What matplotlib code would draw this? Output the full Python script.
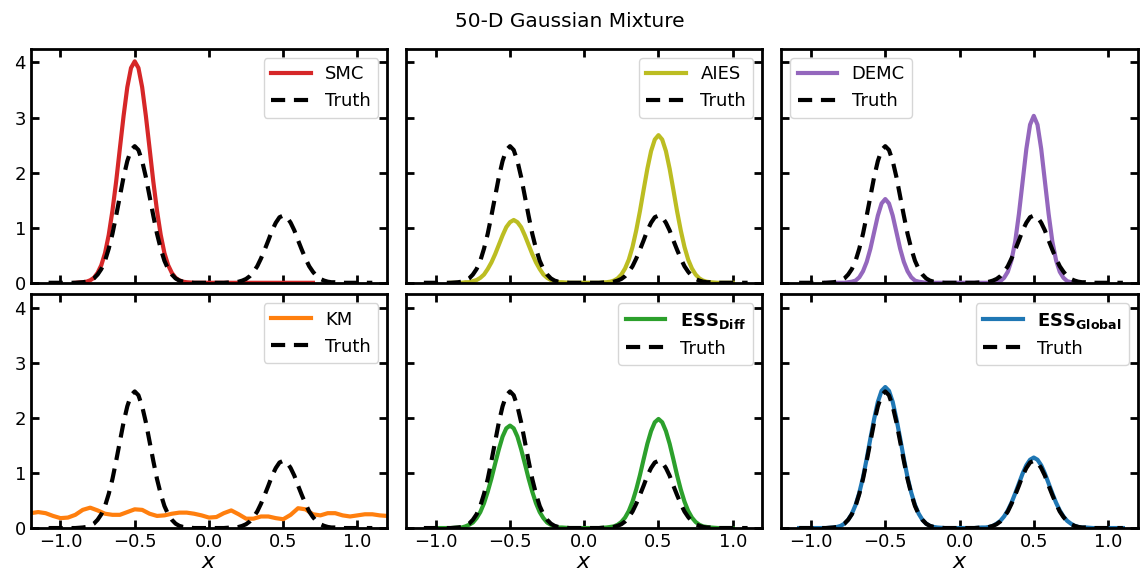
import numpy as np
import matplotlib
matplotlib.use("Agg")
import matplotlib.pyplot as plt

# Sampling grid for the density curves: coarse in the flat parts, fine around the two modes
x_grid = np.concatenate([
    [-1.08, -1.0, -0.9],
    np.arange(-0.85, -0.149, 0.025),
    [-0.1, 0.0, 0.1],
    np.arange(0.15, 0.851, 0.025),
    [0.9, 1.0, 1.1],
])

# Densities (outer-left 3, left mode 29, middle 3, right mode 29, outer-right 3)
truth = ([0.0, 0.0, 0.0]
         + [0.01, 0.02, 0.04, 0.08, 0.15, 0.25, 0.40, 0.62, 0.89, 1.22, 1.57, 1.92, 2.21, 2.41, 2.48,
            2.41, 2.21, 1.92, 1.57, 1.22, 0.89, 0.62, 0.40, 0.25, 0.15, 0.08, 0.04, 0.02, 0.01]
         + [0.0, 0.0, 0.0]
         + [0.01, 0.01, 0.02, 0.04, 0.07, 0.12, 0.20, 0.30, 0.44, 0.60, 0.77, 0.95, 1.09, 1.19, 1.22,
            1.19, 1.09, 0.95, 0.77, 0.60, 0.44, 0.30, 0.20, 0.12, 0.07, 0.04, 0.02, 0.01, 0.01]
         + [0.0, 0.0, 0.0])

smc = ([0.0, 0.0, 0.0]
       + [0.01, 0.02, 0.045, 0.09, 0.18, 0.32, 0.54, 0.87, 1.31, 1.84, 2.44, 3.03, 3.55, 3.90, 4.02,
          3.90, 3.55, 3.03, 2.44, 1.84, 1.31, 0.87, 0.54, 0.32, 0.18, 0.09, 0.045, 0.02, 0.01]
       + [0.0, 0.0, 0.0]
       + [0.0] * 29
       + [0.0, 0.0, 0.0])

aies = ([0.0, 0.0, 0.0]
        + [0.0, 0.0, 0.01, 0.01, 0.03, 0.05, 0.09, 0.15, 0.25, 0.37, 0.52, 0.69, 0.86, 1.01, 1.10,
           1.14, 1.10, 1.01, 0.86, 0.69, 0.52, 0.37, 0.25, 0.15, 0.09, 0.05, 0.03, 0.01, 0.01]
        + [0.0, 0.0, 0.0]
        + [0.01, 0.02, 0.04, 0.08, 0.15, 0.26, 0.42, 0.65, 0.95, 1.30, 1.69, 2.07, 2.39, 2.60, 2.68,
           2.60, 2.39, 2.07, 1.69, 1.30, 0.95, 0.65, 0.42, 0.26, 0.15, 0.08, 0.04, 0.02, 0.01]
        + [0.0, 0.0, 0.0])

demc = ([0.0, 0.0, 0.0]
        + [0.0, 0.0, 0.0, 0.0, 0.01, 0.02, 0.04, 0.10, 0.21, 0.38, 0.62, 0.92, 1.22, 1.44, 1.52,
           1.44, 1.22, 0.92, 0.62, 0.38, 0.21, 0.10, 0.04, 0.02, 0.01, 0.0, 0.0, 0.0, 0.0]
        + [0.0, 0.0, 0.0]
        + [0.0, 0.0, 0.0, 0.0, 0.01, 0.03, 0.09, 0.20, 0.41, 0.75, 1.25, 1.84, 2.43, 2.87, 3.03,
           2.87, 2.43, 1.84, 1.25, 0.75, 0.41, 0.20, 0.09, 0.03, 0.01, 0.0, 0.0, 0.0, 0.0]
        + [0.0, 0.0, 0.0])

ess_diff = ([0.0, 0.0, 0.0]
            + [0.01, 0.01, 0.03, 0.06, 0.10, 0.18, 0.29, 0.45, 0.66, 0.90, 1.17, 1.43, 1.66, 1.81, 1.86,
               1.81, 1.66, 1.43, 1.17, 0.90, 0.66, 0.45, 0.29, 0.18, 0.10, 0.06, 0.03, 0.01, 0.01]
            + [0.0, 0.0, 0.0]
            + [0.01, 0.02, 0.03, 0.06, 0.11, 0.19, 0.31, 0.48, 0.70, 0.96, 1.25, 1.53, 1.76, 1.92, 1.98,
               1.92, 1.76, 1.53, 1.25, 0.96, 0.70, 0.48, 0.31, 0.19, 0.11, 0.06, 0.03, 0.02, 0.01]
            + [0.0, 0.0, 0.0])

ess_global = ([0.0, 0.0, 0.0]
              + [0.01, 0.02, 0.04, 0.08, 0.15, 0.26, 0.42, 0.64, 0.92, 1.26, 1.63, 1.98, 2.29, 2.49, 2.56,
                 2.49, 2.29, 1.98, 1.63, 1.26, 0.92, 0.64, 0.42, 0.26, 0.15, 0.08, 0.04, 0.02, 0.01]
              + [0.0, 0.0, 0.0]
              + [0.01, 0.01, 0.02, 0.04, 0.08, 0.13, 0.21, 0.32, 0.46, 0.63, 0.81, 0.99, 1.14, 1.24, 1.28,
                 1.24, 1.14, 0.99, 0.81, 0.63, 0.46, 0.32, 0.21, 0.13, 0.08, 0.04, 0.02, 0.01, 0.01]
              + [0.0, 0.0, 0.0])

# KM is wiggly everywhere, so it gets its own regular grid
km_x = np.round(np.arange(-1.2, 1.201, 0.05), 3)
km = [0.27, 0.29, 0.27, 0.22, 0.18, 0.19, 0.24, 0.33, 0.37, 0.32,
      0.26, 0.24, 0.24, 0.29, 0.34, 0.33, 0.26, 0.22, 0.23, 0.26,
      0.28, 0.28, 0.26, 0.23, 0.19, 0.20, 0.27, 0.32, 0.25, 0.17,
      0.17, 0.21, 0.21, 0.18, 0.16, 0.24, 0.36, 0.34, 0.25, 0.23,
      0.27, 0.27, 0.23, 0.21, 0.23, 0.25, 0.25, 0.23, 0.22]

# panel order: label, colour, values, x-extent of the drawn curve, legend location
panels = [
    ("SMC", "tab:red", smc, (-0.9, 0.7), "upper right"),
    ("AIES", "tab:olive", aies, (-0.95, 1.0), "upper right"),
    ("DEMC", "tab:purple", demc, (-0.9, 0.8), "upper left"),
    ("KM", "tab:orange", km, None, "upper right"),
    (r"$\mathbf{ESS_{Diff}}$", "tab:green", ess_diff, (-1.0, 1.0), "upper right"),
    (r"$\mathbf{ESS_{Global}}$", "tab:blue", ess_global, (-1.08, 1.1), "upper right"),
]

plt.rcParams["font.size"] = 13
plt.rcParams["axes.linewidth"] = 2.0

fig, axes = plt.subplots(2, 3, figsize=(11.4, 5.79), dpi=100, sharex=True, sharey=True)
fig.subplots_adjust(left=0.027, right=0.998, top=0.915, bottom=0.088, wspace=0.053, hspace=0.05)

x_grid_arr = np.array(x_grid)
truth_arr = np.array(truth)

for ax, (label, color, values, extent, loc) in zip(axes.flat, panels):
    if extent is None:
        ax.plot(km_x, values, color=color, lw=3, label=label)
    else:
        vals = np.array(values)
        m = (x_grid_arr >= extent[0] - 1e-9) & (x_grid_arr <= extent[1] + 1e-9)
        ax.plot(x_grid_arr[m], vals[m], color=color, lw=3, label=label)
    ax.plot(x_grid_arr, truth_arr, color="black", ls=(0, (3.4, 2.1)), lw=3, label="Truth")
    ax.legend(loc=loc, fontsize=13, handlelength=2.2)
    ax.tick_params(direction="in", top=True, right=True, length=6, width=2.0, labelsize=13)

axes[0, 0].set_xlim(-1.2, 1.2)
axes[0, 0].set_ylim(0, 4.24)
axes[0, 0].set_xticks([-1.0, -0.5, 0.0, 0.5, 1.0])
axes[0, 0].set_yticks([0, 1, 2, 3, 4])

for ax in axes[1]:
    ax.set_xlabel("$x$", fontsize=16, labelpad=1)

fig.suptitle("50-D Gaussian Mixture", fontsize=14.5, y=0.98)

fig.savefig("out.png", dpi=100)
